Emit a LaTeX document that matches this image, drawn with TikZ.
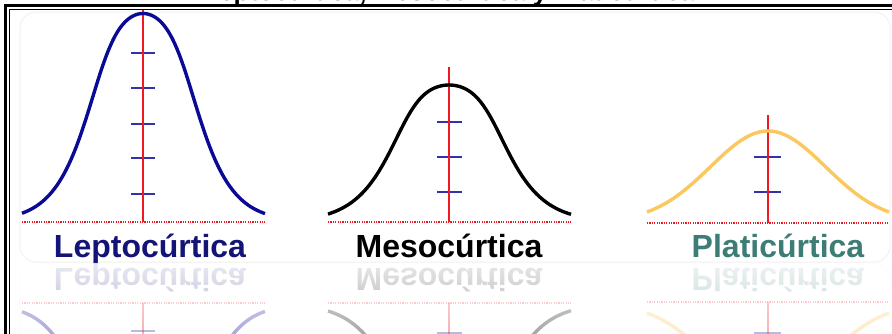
\documentclass[tikz,border=0pt]{standalone}
\usepackage{fontspec}
\setmainfont{Liberation Sans}
\usepackage{tikz}
\usetikzlibrary{positioning,fadings}
\definecolor{leptoblue}{RGB}{10,10,150}
\definecolor{leptotext}{RGB}{20,20,120}
\definecolor{tickblue}{RGB}{50,50,170}
\definecolor{platigold}{RGB}{250,200,95}
\definecolor{platitext}{RGB}{60,125,118}
\definecolor{axisred}{RGB}{240,25,35}
\definecolor{panelgray}{RGB}{242,242,242}
\tikzset{
  curve/.style={line width=3.4pt, line join=round},
  leptocurve/.style={curve, draw=leptoblue},
  mesocurve/.style={curve, draw=black},
  platicurve/.style={curve, draw=platigold},
  axisline/.style={line width=1.5pt, draw=axisred},
  baseline/.style={line width=1.6pt, draw=axisred, dash pattern=on 1.2pt off 1.2pt},
  tick/.style={line width=1.5pt, draw=tickblue},
  kurtlabel/.style={anchor=base, inner sep=0pt, font=\fontsize{32}{32}\selectfont\bfseries},
  panel/.style={rounded corners=16pt, draw=panelgray, line width=1pt},
}
% bell with a flattened top: half gaussian, half 1/(1+u^4)
\newcommand{\bell}[3]{0.5*exp(-0.5*((\x-#1)/#2)^2)+0.5/(1+((\x-#1)/#3)^4)}
% one full set: panel, three curves and their names (#1 = name prefix)
\newcommand{\kurtosisset}[1]{
  \draw[panel] (20,12) rectangle (890,262);
  % leptocurtica
  \foreach \t in {53,88,124,158,194} \draw[tick] (131,\t) -- (155,\t);
  \draw[baseline] (22,222) -- (265,222);
  \draw[axisline] (143,10) -- (143,222);
  \draw[leptocurve] plot[domain=22:265, samples=100, smooth] (\x,{222-208.5*(\bell{143}{46.4}{58.2})});
  \node[kurtlabel, text=leptotext] (#1lepto) at (150,257) {Leptocúrtica};
  % mesocurtica
  \foreach \t in {122,157,192} \draw[tick] (437,\t) -- (462,\t);
  \draw[baseline] (328,222) -- (571,222);
  \draw[axisline] (449,67) -- (449,222);
  \draw[mesocurve] plot[domain=328:571, samples=100, smooth] (\x,{222-137*(\bell{449}{50.7}{60.4})});
  \node[kurtlabel, text=black] (#1meso) at (449,257) {Mesocúrtica};
  % platicurtica
  \foreach \t in {157,192} \draw[tick] (754,\t) -- (781,\t);
  \draw[baseline] (647,223) -- (889,223);
  \draw[axisline] (768,115) -- (768,223);
  \draw[platicurve] plot[domain=647:889, samples=100, smooth] (\x,{222-91*exp(-0.5*((\x-768)/57.6)^2)});
  \node[kurtlabel, text=platitext] (#1plati) at (778,257) {Platicúrtica};
}
\begin{document}
\begin{tikzpicture}[x=1pt, y=-1pt]
\useasboundingbox (0,0) rectangle (892,333);
\fill[white] (0,0) rectangle (892,333);

\kurtosisset{}
% mirrored copy under the names, fading out downwards
\begin{scope}[yshift=-525pt, yscale=-1, transform shape, opacity=0.34]
  \kurtosisset{refl}
\end{scope}
\fill[white, path fading=south, fill opacity=0.75] (0,263) rectangle (892,333);

\node[anchor=base, inner sep=0pt, font=\fontsize{26}{26}\selectfont\bfseries] (title) at (449,0.5) {Leptocúrtica, Mesocúrtica y Platicúrtica};

\draw[line width=2.6pt] (5.5,345) -- (5.5,5.5) -- (905,5.5);
\draw[line width=1.3pt] (9.7,345) -- (9.7,9.7) -- (905,9.7);
\end{tikzpicture}
\end{document}
